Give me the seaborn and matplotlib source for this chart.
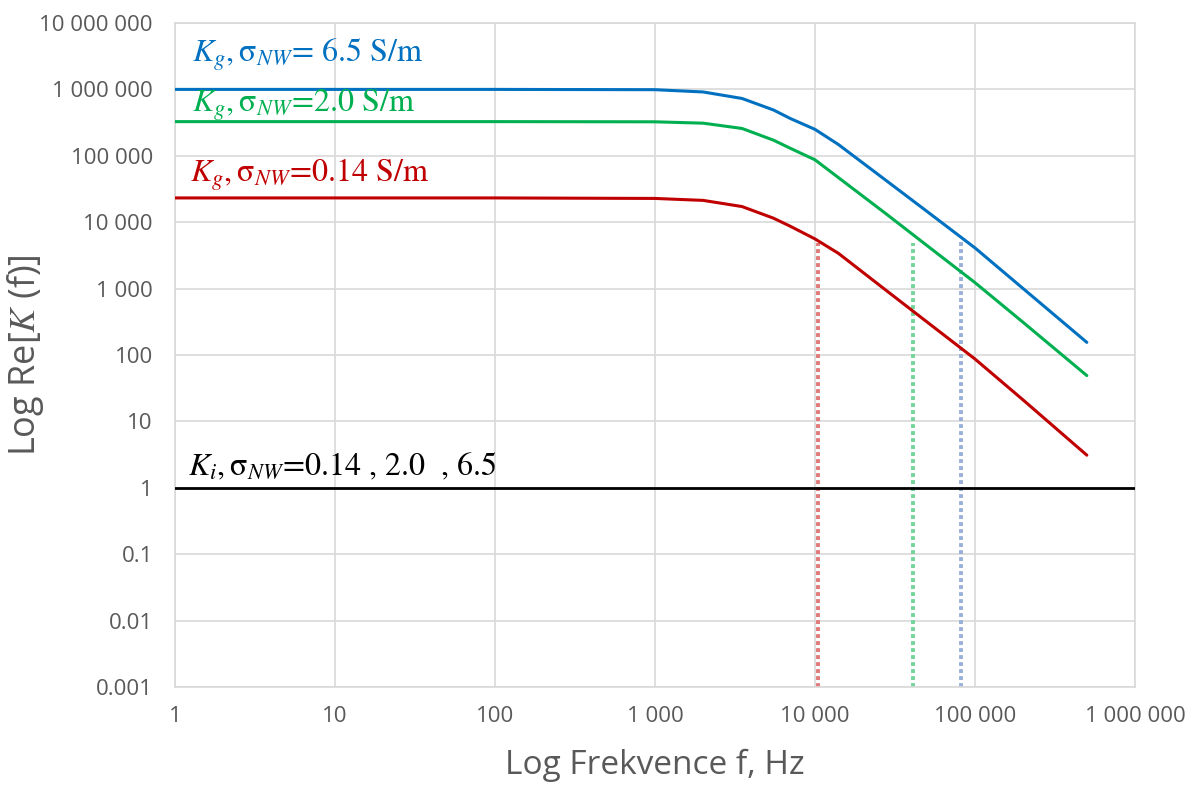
import pandas as pd
import numpy as np
import seaborn as sns
import matplotlib.pyplot as plt
from matplotlib.ticker import FixedLocator, FixedFormatter, NullLocator

# values
freq = [1, 10, 100, 1000, 2000, 3500, 5500, 7000, 10000, 14000, 28000, 50000, 100000, 200000, 500000]
k_65 = [1000000, 1000000, 1000000, 990000, 915000, 730000, 490000, 365000, 250000, 148000, 42000, 14600, 4100, 1000, 155]
k_20 = [327000, 327000, 327000, 325000, 310000, 258000, 172000, 130000, 87000, 47000, 13200, 4470, 1230, 310, 49]
k_014 = [23200, 23200, 23200, 22800, 21300, 17200, 11500, 8700, 5600, 3400, 930, 316, 87, 21, 3.1]
k_i = [1, 1]
k_i_freq = [1, 1000000]

# dotted markers (frequency, top value)
drop_freq = [10500, 41200, 81400]
drop_top = [4900, 4900, 5200]

x_ticks = [1, 10, 100, 1000, 10000, 100000, 1000000]
x_labels = ["1", "10", "100", "1 000", "10 000", "100 000", "1 000 000"]
y_ticks = [0.001, 0.01, 0.1, 1, 10, 100, 1000, 10000, 100000, 1000000, 10000000]
y_labels = ["0.001", "0.01", "0.1", "1", "10", "100", "1 000", "10 000", "100 000", "1 000 000", "10 000 000"]

blue = "#0070C0"
green = "#00B050"
red = "#C00000"
grey = "#595959"

sns.set_theme(style="white")
plt.rcParams["font.family"] = ["Open Sans", "DejaVu Sans"]
plt.rcParams["mathtext.fontset"] = "stix"

df = pd.DataFrame({"f": freq * 3,
                   "K": k_65 + k_20 + k_014,
                   "sigma": ["6.5"] * len(freq) + ["2.0"] * len(freq) + ["0.14"] * len(freq)})

fig = plt.figure(figsize=(11.91, 7.85), dpi=100)
ax = fig.add_axes([175 / 1191, 1 - 687 / 785, 960 / 1191, 664 / 785])
ax.set_xscale("log")
ax.set_yscale("log")

for fq, top, c in zip(drop_freq, drop_top, ["#E07A7A", "#74D49A", "#9AB0D8"]):
    ax.plot([fq, fq], [0.001, top], color=c, lw=2.8, ls=(0, (1, 0.8)), zorder=2)

sns.lineplot(data=df, x="f", y="K", hue="sigma", palette={"6.5": blue, "2.0": green, "0.14": red},
             lw=2.2, legend=False, ax=ax, zorder=3)
sns.lineplot(x=k_i_freq, y=k_i, color="black", lw=2, ax=ax, zorder=3)

ax.set_xlim(1, 1000000)
ax.set_ylim(0.001, 10000000)
ax.xaxis.set_major_locator(FixedLocator(x_ticks))
ax.xaxis.set_major_formatter(FixedFormatter(x_labels))
ax.yaxis.set_major_locator(FixedLocator(y_ticks))
ax.yaxis.set_major_formatter(FixedFormatter(y_labels))
ax.xaxis.set_minor_locator(NullLocator())
ax.yaxis.set_minor_locator(NullLocator())
ax.grid(True, color="#D9D9D9", lw=1.2)
for s in ax.spines.values():
    s.set_color("#D9D9D9")
    s.set_linewidth(1.2)
ax.tick_params(axis="both", length=0, labelsize=16, labelcolor=grey)
ax.tick_params(axis="x", pad=14)
ax.tick_params(axis="y", pad=16)

ax.set_xlabel("Log Frekvence f, Hz", fontsize=24, color=grey, labelpad=15)
ax.set_ylabel(r"Log Re[$K$ (f)]", fontsize=26, color=grey)
ax.yaxis.set_label_coords(-0.134, 0.50)

tkw = dict(fontsize=23, family="STIXGeneral", va="baseline", ha="left")
ax.text(1.28, 2.6e6, r"$K_g,\mathrm{σ}_{NW}$= 6.5 S/m", color=blue, **tkw)
ax.text(1.28, 4.6e5, r"$K_g,\mathrm{σ}_{NW}$=2.0 S/m", color=green, **tkw)
ax.text(1.24, 4.0e4, r"$K_g,\mathrm{σ}_{NW}$=0.14 S/m", color=red, **tkw)
ax.text(1.2, 1.56, r"$K_i,\mathrm{σ}_{NW}$=0.14 , 2.0  , 6.5", color="black", **tkw)

fig.savefig("out.png", dpi=100)
